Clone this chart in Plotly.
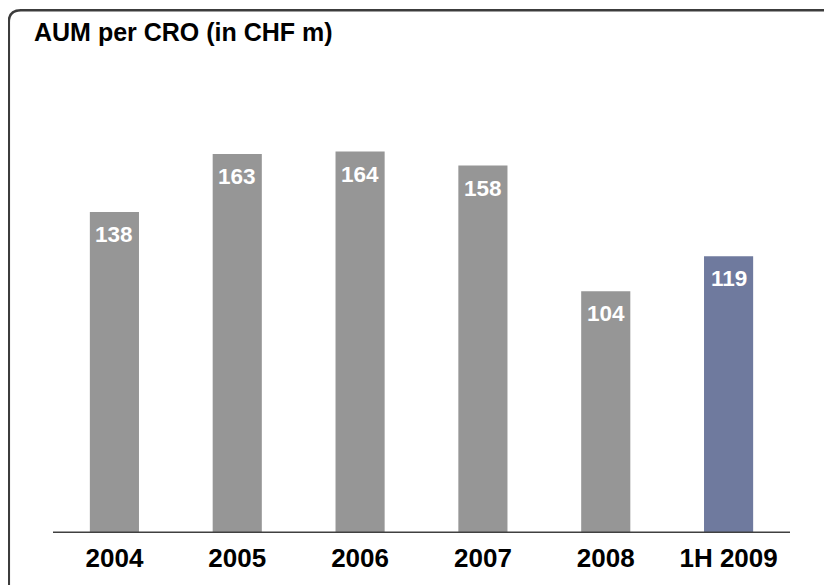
import plotly.graph_objects as go

categories = ["2004", "2005", "2006", "2007", "2008", "1H 2009"]
values = [138, 163, 164, 158, 104, 119]
bar_colors = ["#969696", "#969696", "#969696", "#969696", "#969696", "#6f7a9e"]
title_text = "AUM per CRO (in CHF m)"

FONT = "Liberation Sans, Arial, sans-serif"

fig = go.Figure()
fig.add_trace(go.Bar(
    x=categories, y=values,
    marker=dict(color=bar_colors, line=dict(width=0)),
    hoverinfo="skip",
))

# value labels inside the bar tops (category index positions)
for i, v in enumerate(values):
    fig.add_annotation(
        x=i, y=v, xref="x", yref="y", text=f"<b>{v}</b>", showarrow=False,
        yanchor="top", xanchor="center", yshift=-8,
        font=dict(family=FONT, size=22.5, color="white"),
    )

# title
fig.add_annotation(
    x=-0.0285, y=1.093, xref="paper", yref="paper", text=f"<b>{title_text}</b>",
    showarrow=False, xanchor="left", yanchor="top",
    font=dict(family=FONT, size=25, color="black"),
)

# baseline
fig.add_shape(type="line", xref="paper", yref="y", x0=0, x1=1, y0=0, y1=0,
              line=dict(color="#404040", width=3), layer="above")

# rounded frame (top & left edges visible, others off-canvas)
x0, x1 = -0.05997, 1.2
yt, yb = 1.1051, -0.2
rx, ry = 12 / 737, 12 / 473
path = (f"M {x0},{yb} L {x0},{yt - ry} Q {x0},{yt} {x0 + rx},{yt} "
        f"L {x1},{yt} L {x1},{yb} Z")
fig.add_shape(type="path", xref="paper", yref="paper", path=path,
              line=dict(color="#3c3c3c", width=2.5), fillcolor="rgba(0,0,0,0)",
              layer="above")

fig.update_layout(
    width=832, height=585,
    margin=dict(l=45, r=50, t=52, b=60, pad=0, autoexpand=False),
    paper_bgcolor="white", plot_bgcolor="white",
    showlegend=False,
    bargap=0.6,
    xaxis=dict(
        type="category", range=[-0.5, len(categories) - 0.5],
        showgrid=False, zeroline=False, showline=False, automargin=False,
        ticks="", tickangle=0, ticklabelstandoff=7,
        tickfont=dict(family=FONT, size=26, color="black"),
        tickvals=categories, ticktext=[f"<b>{c}</b>" for c in categories],
    ),
    yaxis=dict(
        range=[0, 203.4], showgrid=False, zeroline=False, showline=False,
        showticklabels=False, ticks="", automargin=False,
    ),
)

fig.write_html("out.html")
